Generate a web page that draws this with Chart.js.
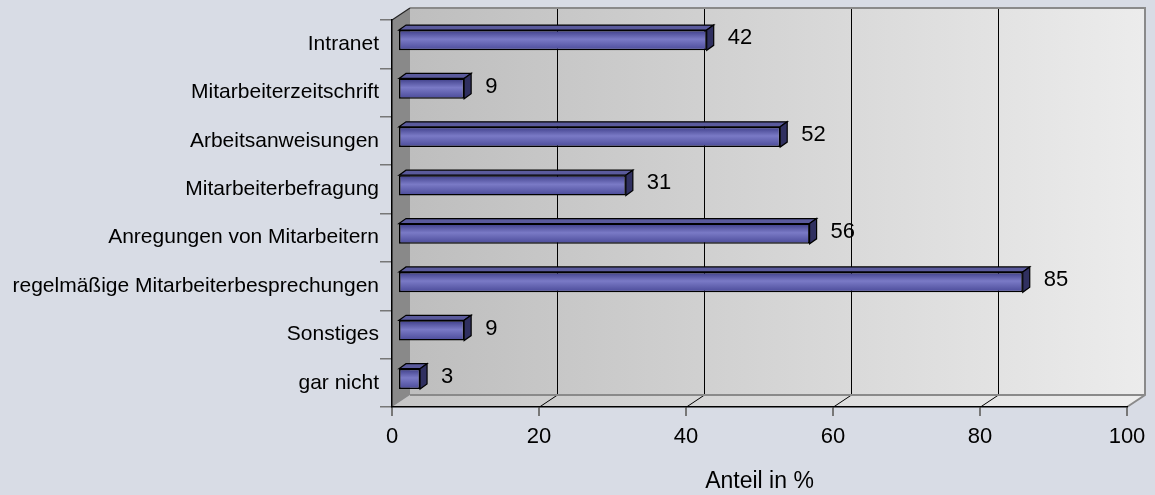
<!DOCTYPE html>
<html>
<head>
<meta charset="utf-8">
<script src="https://cdn.jsdelivr.net/npm/chart.js@4/dist/chart.umd.min.js"></script>
<style>
  html, body { margin: 0; padding: 0; background: #d8dce5; }
  #chart { display: block; }
</style>
</head>
<body>
<canvas id="chart" width="1155" height="495"></canvas>
<script>
const categories = [
  'Intranet',
  'Mitarbeiterzeitschrift',
  'Arbeitsanweisungen',
  'Mitarbeiterbefragung',
  'Anregungen von Mitarbeitern',
  'regelmäßige Mitarbeiterbesprechungen',
  'Sonstiges',
  'gar nicht'
];
const shares = [42, 9, 52, 31, 56, 85, 9, 3];
const xTicks = [0, 20, 40, 60, 80, 100];

// depth of the 3D box and of the bars
const WALL = { dx: 18, dy: -12 };
const BAR_SHIFT = { dx: 6, dy: -4 };
const BAR_DEPTH = { dx: 7, dy: -5 };

function wallGradient(ctx, x0, x1, c0, c1) {
  const g = ctx.createLinearGradient(x0, 0, x1, 0);
  g.addColorStop(0, c0);
  g.addColorStop(1, c1);
  return g;
}

const box3d = {
  id: 'box3d',
  beforeDraw(chart) {
    const { ctx, chartArea: a, scales: { x } } = chart;
    const { dx, dy } = WALL;
    ctx.save();
    ctx.fillStyle = '#d8dce5';
    ctx.fillRect(0, 0, chart.width, chart.height);

    // back wall
    ctx.fillStyle = wallGradient(ctx, a.left + dx, a.right + dx, '#bebebe', '#ececec');
    ctx.fillRect(a.left + dx, a.top + dy, a.right - a.left, a.bottom - a.top);

    // floor
    ctx.beginPath();
    ctx.moveTo(a.left, a.bottom);
    ctx.lineTo(a.left + dx, a.bottom + dy);
    ctx.lineTo(a.right + dx, a.bottom + dy);
    ctx.lineTo(a.right, a.bottom);
    ctx.closePath();
    ctx.fillStyle = wallGradient(ctx, a.left, a.right + dx, '#c6c6c6', '#eeeeee');
    ctx.fill();

    // gridlines on the back wall and the floor
    ctx.strokeStyle = '#000';
    ctx.lineWidth = 1;
    xTicks.slice(1, -1).forEach((v) => {
      const px = Math.round(x.getPixelForValue(v)) + 0.5;
      ctx.beginPath();
      ctx.moveTo(px + dx, a.top + dy);
      ctx.lineTo(px + dx, a.bottom + dy);
      ctx.lineTo(px, a.bottom);
      ctx.stroke();
    });

    // outline of the back wall and floor
    ctx.strokeStyle = '#8a8a8a';
    ctx.lineWidth = 2;
    ctx.beginPath();
    ctx.moveTo(a.left + dx, a.top + dy);
    ctx.lineTo(a.right + dx, a.top + dy);
    ctx.lineTo(a.right + dx, a.bottom + dy);
    ctx.lineTo(a.right, a.bottom);
    ctx.moveTo(a.left + dx, a.bottom + dy);
    ctx.lineTo(a.right + dx, a.bottom + dy);
    ctx.stroke();

    // left side wall
    ctx.beginPath();
    ctx.moveTo(a.left, a.top);
    ctx.lineTo(a.left + dx, a.top + dy);
    ctx.lineTo(a.left + dx, a.bottom + dy);
    ctx.lineTo(a.left, a.bottom);
    ctx.closePath();
    ctx.fillStyle = '#898989';
    ctx.fill();
    ctx.strokeStyle = '#222';
    ctx.lineWidth = 1.2;
    ctx.beginPath();
    ctx.moveTo(a.left, a.top);
    ctx.lineTo(a.left + dx, a.top + dy);
    ctx.stroke();
    ctx.restore();
  },
  beforeDatasetsDraw(chart) {
    chart.ctx.save();
    chart.ctx.translate(BAR_SHIFT.dx, BAR_SHIFT.dy);
  },
  afterDatasetsDraw(chart) {
    const { ctx } = chart;
    const meta = chart.getDatasetMeta(0);
    const { dx, dy } = BAR_DEPTH;
    ctx.lineWidth = 1.2;
    ctx.strokeStyle = '#000';
    meta.data.forEach((bar) => {
      const top = bar.y - bar.height / 2;
      const bottom = bar.y + bar.height / 2;
      // top face
      ctx.beginPath();
      ctx.moveTo(bar.base, top);
      ctx.lineTo(bar.base + dx, top + dy);
      ctx.lineTo(bar.x + dx, top + dy);
      ctx.lineTo(bar.x, top);
      ctx.closePath();
      ctx.fillStyle = '#5a5a9c';
      ctx.fill();
      ctx.stroke();
      // end face
      ctx.beginPath();
      ctx.moveTo(bar.x, top);
      ctx.lineTo(bar.x + dx, top + dy);
      ctx.lineTo(bar.x + dx, bottom + dy);
      ctx.lineTo(bar.x, bottom);
      ctx.closePath();
      ctx.fillStyle = '#303060';
      ctx.fill();
      ctx.stroke();
    });
    ctx.restore();

    // value labels
    const { x, y } = chart.scales;
    ctx.save();
    ctx.fillStyle = '#000';
    ctx.font = '22px "Liberation Sans", Arial, sans-serif';
    ctx.textAlign = 'left';
    ctx.textBaseline = 'middle';
    shares.forEach((v, i) => {
      ctx.fillText(String(v), x.getPixelForValue(v) + 27, y.getPixelForValue(i) - 6);
    });
    ctx.restore();
  }
};

// cylinder-like shading across each bar's front face
function barFill(c) {
  const ys = c.chart.scales.y;
  const yc = ys ? ys.getPixelForValue(c.dataIndex) : NaN;
  if (!Number.isFinite(yc)) return '#6868b8';
  const g = c.chart.ctx.createLinearGradient(0, yc - 10, 0, yc + 10);
  g.addColorStop(0, '#3e3e88');
  g.addColorStop(0.45, '#7a7ac6');
  g.addColorStop(1, '#4a4a98');
  return g;
}

Chart.defaults.font.family = '"Liberation Sans", Arial, sans-serif';
Chart.defaults.font.size = 21;
Chart.defaults.color = '#000';

new Chart(document.getElementById('chart'), {
  type: 'bar',
  data: {
    labels: categories,
    datasets: [{
      data: shares,
      backgroundColor: barFill,
      borderColor: '#000',
      borderWidth: 1.5,
      borderSkipped: false,
      categoryPercentage: 1,
      barPercentage: 0.42
    }]
  },
  plugins: [box3d],
  options: {
    indexAxis: 'y',
    responsive: false,
    animation: false,
    layout: { padding: { top: 20, right: 28, left: 0, bottom: 0 } },
    plugins: {
      legend: { display: false },
      tooltip: { enabled: false }
    },
    scales: {
      x: {
        min: 0,
        max: 100,
        afterFit: (s) => { s.height = 88; },
        afterBuildTicks: (s) => { s.ticks = xTicks.map((v) => ({ value: v })); },
        ticks: { padding: 8, maxRotation: 0, font: { size: 22 } },
        grid: { drawOnChartArea: false, drawTicks: true, tickLength: 9, color: '#777', lineWidth: 2 },
        border: { display: true, color: '#000', width: 1.5 },
        title: { display: true, text: 'Anteil in %', font: { size: 23 }, padding: { top: 14, bottom: 0 } }
      },
      y: {
        afterFit: (s) => { s.width = 392; },
        ticks: { padding: 1, autoSkip: false },
        grid: { drawOnChartArea: false, drawTicks: true, tickLength: 12, color: '#777', lineWidth: 1.5 },
        border: { display: true, color: '#000', width: 1.5 }
      }
    }
  }
});
</script>
</body>
</html>
